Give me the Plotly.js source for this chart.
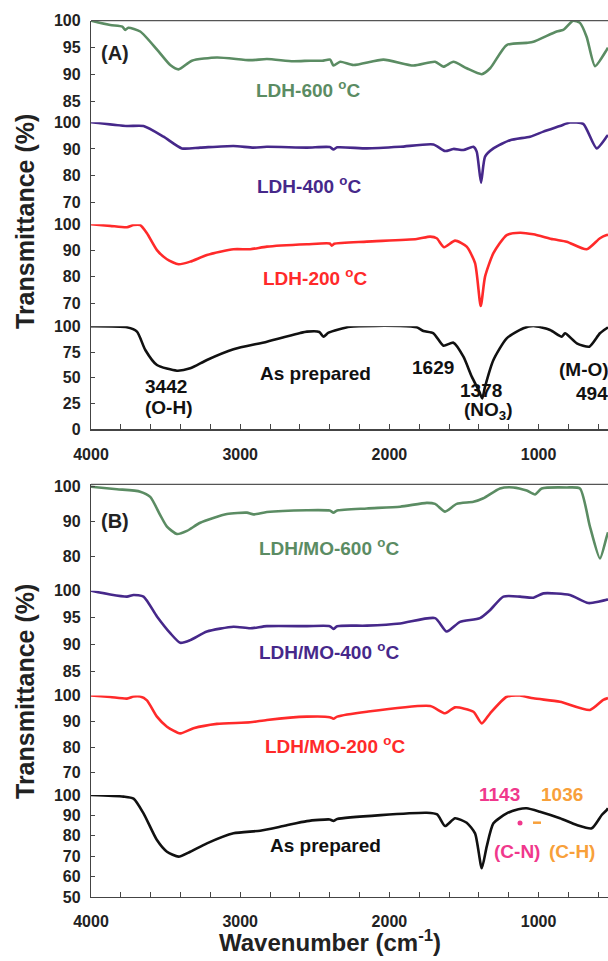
<!DOCTYPE html>
<html>
<head>
<meta charset="utf-8">
<script src="https://cdn.plot.ly/plotly-3.0.1.min.js"></script>
<style>html,body{margin:0;padding:0;background:#fff}#chart{width:608px;height:961px}</style>
</head>
<body>
<div id="chart"></div>
<script>
// ---------- DATA (wavenumber in cm-1, transmittance in %) ----------
// Panel A
var wnA600 = [4000, 3871, 3790, 3770, 3750, 3670, 3556, 3469, 3413, 3324, 3156, 2933, 2821, 2645, 2531, 2450, 2397, 2375, 2330, 2241, 2040, 1839, 1694, 1638, 1571, 1482, 1381, 1325, 1214, 1080, 1035, 879, 835, 768, 723, 678, 622, 544, 535];
var tA600  = [100, 99.2, 98.9, 98.3, 98.7, 98.0, 94.6, 91.8, 91.0, 92.6, 93.2, 92.7, 92.9, 92.5, 92.6, 92.6, 92.8, 91.7, 92.4, 91.8, 92.8, 91.7, 92.4, 91.5, 92.4, 91.2, 90.1, 91.2, 95.5, 95.9, 96.1, 98.0, 98.3, 100, 99.6, 97.0, 91.6, 94.6, 95];

var wnA400 = [4000, 3759, 3648, 3514, 3391, 3268, 3045, 2911, 2821, 2553, 2400, 2375, 2350, 2151, 1928, 1705, 1627, 1571, 1504, 1437, 1415, 1386, 1359, 1303, 1191, 1057, 968, 857, 790, 701, 611, 544, 535];
var tA400  = [100, 98.6, 98.6, 94.6, 90.2, 90.5, 91.1, 90.5, 90.8, 90.5, 90.7, 89.8, 90.6, 90.2, 90.8, 91.7, 89.2, 90.0, 89.6, 90.8, 89.0, 77.3, 87.1, 90.2, 93.3, 94.6, 96.5, 98.6, 99.9, 99.4, 90.2, 94.6, 95.2];

var wnA200 = [4000, 3871, 3759, 3715, 3670, 3625, 3558, 3491, 3413, 3335, 3223, 3045, 2933, 2821, 2553, 2400, 2386, 2370, 2151, 1817, 1727, 1683, 1634, 1560, 1482, 1426, 1388, 1359, 1303, 1214, 1125, 1035, 902, 812, 678, 589, 544, 535];
var tA200  = [100, 99.4, 98.9, 99.7, 99.7, 96.6, 90.2, 86.7, 84.8, 85.8, 88.3, 90.5, 90.5, 91.5, 92.4, 92.7, 91.9, 92.6, 93.4, 94.4, 95.3, 94.7, 91.3, 93.8, 91.5, 85.2, 68.9, 80.1, 89.0, 95.9, 96.8, 96.2, 94.3, 93.4, 90.5, 94.7, 95.9, 96];

var wnAprep = [4000, 3759, 3692, 3636, 3558, 3424, 3335, 3223, 3045, 2821, 2598, 2553, 2470, 2442, 2408, 2263, 1928, 1817, 1772, 1705, 1638, 1571, 1504, 1448, 1397, 1378, 1359, 1303, 1214, 1102, 1035, 923, 845, 823, 744, 660, 589, 544, 535];
var tAprep  = [100, 99.0, 94.8, 77.0, 62.4, 56.9, 59.2, 67.3, 77.7, 85.0, 93.5, 94.8, 94.5, 89.9, 93.8, 99.6, 100.3, 99.0, 95.4, 93.2, 81.2, 84.1, 70.5, 51.1, 36.5, 30, 41.4, 67.3, 88.3, 98.1, 100.3, 96.4, 89.9, 93.2, 83.5, 80.2, 93.2, 98.1, 99];

// Panel B
var wnB600 = [4000, 3826, 3670, 3603, 3536, 3491, 3424, 3357, 3268, 3089, 2955, 2911, 2821, 2553, 2400, 2375, 2350, 2151, 1928, 1750, 1694, 1627, 1549, 1437, 1370, 1259, 1170, 1080, 1024, 979, 812, 723, 656, 589, 544, 535];
var tB600  = [100, 99.3, 98.6, 97.1, 91.9, 88.6, 86.5, 87.4, 89.7, 92.2, 92.6, 92.1, 92.8, 93.3, 93.2, 92.6, 93.2, 93.8, 94.3, 95.4, 95.1, 92.9, 95.1, 95.7, 96.7, 99.5, 99.8, 98.9, 97.8, 99.5, 99.8, 99.5, 88.6, 79.5, 85.7, 87];

var wnB400 = [4000, 3871, 3759, 3715, 3648, 3558, 3469, 3402, 3335, 3223, 3045, 2933, 2821, 2553, 2400, 2375, 2350, 2151, 1928, 1694, 1616, 1527, 1393, 1325, 1236, 1125, 1035, 968, 790, 667, 544, 535];
var tB400  = [100, 99.3, 98.9, 99.2, 98.9, 95.2, 92.1, 90.3, 90.8, 92.4, 93.3, 93.0, 93.4, 93.4, 93.4, 92.9, 93.4, 93.5, 93.9, 94.9, 92.4, 94.2, 94.9, 96.4, 98.9, 98.9, 98.7, 99.5, 99.2, 97.7, 98.3, 98.4];

var wnB200 = [4000, 3871, 3759, 3715, 3670, 3625, 3558, 3491, 3402, 3313, 3156, 2933, 2821, 2553, 2400, 2375, 2350, 2151, 1727, 1627, 1560, 1437, 1381, 1325, 1214, 1125, 1035, 857, 656, 567, 535];
var tB200  = [100, 99.4, 98.8, 99.6, 99.6, 98.1, 91.8, 87.9, 85.3, 87.3, 89.0, 89.6, 90.5, 91.8, 91.6, 91.0, 91.8, 93.7, 95.9, 93.1, 95.4, 93.7, 89.2, 93.1, 99.5, 100, 98.9, 97.6, 94.4, 98.3, 99];

var wnBprep = [4000, 3782, 3715, 3648, 3558, 3491, 3413, 3335, 3223, 3045, 2866, 2710, 2553, 2400, 2375, 2350, 1750, 1680, 1627, 1560, 1482, 1426, 1381, 1348, 1303, 1214, 1136, 1080, 991, 857, 744, 644, 577, 544, 535];
var tBprep  = [100, 99.2, 98.2, 91.0, 77.9, 72.2, 69.8, 72.2, 76.3, 81.2, 82.5, 84.8, 87.2, 88.0, 87.3, 88.2, 91.3, 90.5, 84.8, 88.6, 86.4, 81.2, 64.1, 74.7, 86.1, 91.0, 93.0, 93.5, 91.8, 88.6, 85.3, 83.7, 90.2, 92.6, 93.5];

// tick values for each stacked sub-axis
var ticksA600 = [85, 90, 95, 100];
var ticksA400 = [70, 80, 90, 100];
var ticksA200 = [70, 80, 90, 100];
var ticksAprep = [0, 25, 50, 75, 100];
var ticksB600 = [80, 90, 100];
var ticksB400 = [85, 90, 95, 100];
var ticksB200 = [70, 80, 90, 100];
var ticksBprep = [50, 60, 70, 80, 90, 100];

// ---------- STYLE ----------
var W = 608, H = 961;
var GREEN = '#5b8c63', PURPLE = '#46288a', RED = '#ff2a2a', BLACK = '#111111';
var PINK = '#f0388c', ORANGE = '#f8a03a';
var FONT = 'Liberation Sans, Arial, Helvetica, sans-serif';
function fy(p) { return 1 - p / H; }
function fx(p) { return p / W; }

function tr(x, y, color, xa, ya) {
  return {x: x, y: y, xaxis: xa, yaxis: ya, type: 'scatter', mode: 'lines',
    line: {color: color, width: 2.6, shape: 'spline', smoothing: 0.6},
    hoverinfo: 'skip', showlegend: false};
}

var data = [
  tr(wnA600, tA600, GREEN, 'x', 'y'),
  tr(wnA400, tA400, PURPLE, 'x', 'y2'),
  tr(wnA200, tA200, RED, 'x', 'y3'),
  tr(wnAprep, tAprep, BLACK, 'x', 'y4'),
  tr(wnB600, tB600, GREEN, 'x2', 'y5'),
  tr(wnB400, tB400, PURPLE, 'x2', 'y6'),
  tr(wnB200, tB200, RED, 'x2', 'y7'),
  tr(wnBprep, tBprep, BLACK, 'x2', 'y8')
];

var tickFont = {family: FONT, size: 16, color: '#222', weight: 'bold'};

function yax(anchor, dom, rng, tv) {
  return {anchor: anchor, domain: [fy(dom[0]), fy(dom[1])], range: rng,
    tickmode: 'array', tickvals: tv, ticktext: tv.map(String),
    ticks: 'inside', ticklen: 4, tickcolor: '#444', tickwidth: 1,
    showline: true, linecolor: '#444', linewidth: 1.2,
    showgrid: false, zeroline: false, tickfont: tickFont,
    ticklabelstandoff: 6, fixedrange: true};
}
function xax(anchor) {
  return {anchor: anchor, domain: [fx(91), 1], range: [4000, 535],
    tickmode: 'linear', tick0: 0, dtick: 1000,
    ticks: 'inside', ticklen: 5, tickcolor: '#444', tickwidth: 1,
    minor: {dtick: 200, tick0: 0, ticks: 'inside', ticklen: 5, tickcolor: '#444', tickwidth: 1, showgrid: false},
    showline: true, linecolor: '#444', linewidth: 1.2,
    showgrid: false, zeroline: false, tickfont: tickFont,
    ticklabelstandoff: 10, fixedrange: true};
}

function ann(text, px, py, color, size, extra) {
  var a = {text: text, x: fx(px), y: fy(py), xref: 'paper', yref: 'paper',
    xanchor: 'center', yanchor: 'middle', showarrow: false,
    font: {family: FONT, size: size || 19, color: color, weight: 'bold'}};
  if (extra) for (var k in extra) a[k] = extra[k];
  return a;
}

var annotations = [
  ann('Transmittance (%)', 25, 222, '#222', 25, {textangle: -90}),
  ann('Transmittance (%)', 25, 692, '#222', 25, {textangle: -90}),
  ann('Wavenumber (cm<sup>-1</sup>)', 330, 941, '#222', 24),
  ann('(A)', 115, 53, '#222', 20),
  ann('(B)', 115, 521, '#222', 20),
  ann('LDH-600 <sup>o</sup>C', 308, 89, GREEN, 19),
  ann('LDH-400 <sup>o</sup>C', 309, 185, PURPLE, 19),
  ann('LDH-200 <sup>o</sup>C', 315, 277, RED, 19),
  ann('As prepared', 315, 373, BLACK, 19),
  ann('3442', 166, 386, BLACK, 19),
  ann('(O-H)', 168, 407, BLACK, 19),
  ann('1629', 433, 367, BLACK, 19),
  ann('1378', 481, 391, BLACK, 19),
  ann('(NO<sub>3</sub>)', 488, 411, BLACK, 19),
  ann('(M-O)', 584, 369, BLACK, 19),
  ann('494', 592, 393, BLACK, 19),
  ann('LDH/MO-600 <sup>o</sup>C', 329, 547, GREEN, 19),
  ann('LDH/MO-400 <sup>o</sup>C', 329, 651, PURPLE, 19),
  ann('LDH/MO-200 <sup>o</sup>C', 335, 745, RED, 19),
  ann('As prepared', 325, 845, BLACK, 19),
  ann('1143', 500, 794, PINK, 19),
  ann('1036', 562, 794, ORANGE, 19),
  ann('(C-N)', 517, 851, PINK, 19),
  ann('(C-H)', 572, 851, ORANGE, 19)
];

var shapes = [
  {type: 'line', xref: 'paper', yref: 'paper', x0: fx(91), x1: 1, y0: fy(20.7), y1: fy(20.7), line: {color: '#555', width: 1.2}},
  {type: 'line', xref: 'paper', yref: 'paper', x0: fx(91), x1: 1, y0: fy(484.3), y1: fy(484.3), line: {color: '#555', width: 1.2}},
  // pink dot marker (1143) and orange dash marker (1036)
  {type: 'circle', xref: 'paper', yref: 'paper', x0: fx(517.5), x1: fx(522.5), y0: fy(825.5), y1: fy(820.5), fillcolor: PINK, line: {color: PINK, width: 0}},
  {type: 'line', xref: 'paper', yref: 'paper', x0: fx(533), x1: fx(541), y0: fy(822.7), y1: fy(822.7), line: {color: ORANGE, width: 2.5}}
];

var layout = {
  width: W, height: H,
  margin: {l: 0, r: 0, t: 0, b: 0, pad: 0},
  paper_bgcolor: '#fff', plot_bgcolor: 'rgba(0,0,0,0)',
  showlegend: false,
  xaxis: xax('y4'),
  xaxis2: xax('y8'),
  yaxis:  yax('x', [122.3, 20.7], [81.2, 100.001], ticksA600),
  yaxis2: yax('x', [224.3, 122.3], [61.7, 100], ticksA400),
  yaxis3: yax('x', [326.3, 224.3], [61.2, 100], ticksA200),
  yaxis4: yax('x', [429.3, 326.3], [0, 100], ticksAprep),
  yaxis5: yax('x2', [590.7, 484.3], [70.3, 100.7], ticksB600),
  yaxis6: yax('x2', [695.5, 590.7], [80.5, 100], ticksB400),
  yaxis7: yax('x2', [795, 695.5], [61.4, 100], ticksB200),
  yaxis8: yax('x2', [897, 795], [50, 100], ticksBprep),
  annotations: annotations,
  shapes: shapes
};

Plotly.newPlot('chart', data, layout, {staticPlot: true, displayModeBar: false});
</script>
</body>
</html>
